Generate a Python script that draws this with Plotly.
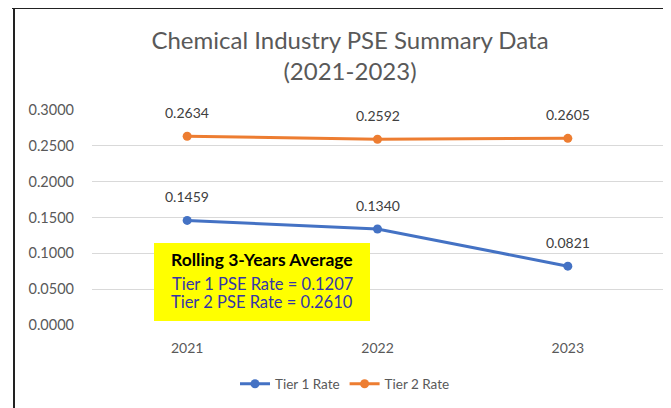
import plotly.graph_objects as go

years = ["2021", "2022", "2023"]
tier1 = [0.1459, 0.1340, 0.0821]
tier2 = [0.2634, 0.2592, 0.2605]
y_ticks = [0.0, 0.05, 0.10, 0.15, 0.20, 0.25, 0.30]
box_title = "Rolling 3-Years Average"
box_lines = ["Tier 1 PSE Rate = 0.1207", "Tier 2 PSE Rate = 0.2610"]

FONT = "Lato, Open Sans, sans-serif"
GRAY = "#595959"
xpos = list(range(len(years)))

# page body has an 8px margin; figure is sized/placed to compensate
W, H = 663, 400
OFF = 8
PL, PR, PT, PB = 92 - OFF, 663 - OFF, 110 - OFF, 325 - OFF  # plot area in figure px


def py(ref_y):
    return (325 - ref_y) / 215


fig = go.Figure()
fig.add_trace(go.Scatter(x=xpos, y=tier1, name="Tier 1 Rate", mode="lines+markers",
                         line=dict(color="#4472C4", width=3), marker=dict(size=9, color="#4472C4")))
fig.add_trace(go.Scatter(x=xpos, y=tier2, name="Tier 2 Rate", mode="lines+markers",
                         line=dict(color="#ED7D31", width=3), marker=dict(size=9, color="#ED7D31")))

anns = []
for series in (tier1, tier2):
    for x, v in zip(xpos, series):
        anns.append(dict(x=x, y=v, xref="x", yref="y", text=f"{v:.4f}", showarrow=False,
                         xanchor="center", yanchor="middle",
                         yshift=23.5, font=dict(family=FONT, size=14, color="#404040")))

# yellow info box
x0, x1 = (154 - 92) / 571, (370 - 92) / 571
y0, y1 = py(321), py(243)
shapes = [dict(type="rect", xref="paper", yref="paper", x0=x0, x1=x1, y0=y0, y1=y1,
               fillcolor="#FFFF00", line=dict(width=0), layer="above")]
xc = (x0 + x1) / 2
for txt, ypix, col, sz in [(f"<b>{box_title}</b>", 259, "black", 17.5),
                           (box_lines[0], 284, "#3535A8", 16.5),
                           (box_lines[1], 302, "#3535A8", 16.5)]:
    anns.append(dict(x=xc, y=py(ypix), xref="paper", yref="paper", text=txt,
                     xanchor="center", yanchor="middle", showarrow=False,
                     font=dict(family=FONT, size=sz, color=col)))

# border lines (top and left)
shapes.append(dict(type="line", xref="paper", yref="paper", x0=(12 - 92) / 571, x1=1.05,
                   y0=py(8), y1=py(8), line=dict(color="#222222", width=2)))
shapes.append(dict(type="line", xref="paper", yref="paper", x0=(14 - 92) / 571, x1=(14 - 92) / 571,
                   y0=py(8), y1=-0.5, line=dict(color="#222222", width=2)))

fig.update_layout(
    width=W, height=H,
    margin=dict(l=PL, r=W - PR, t=PT, b=H - PB),
    paper_bgcolor="white", plot_bgcolor="white",
    title=dict(text="Chemical Industry PSE Summary Data<br>(2021-2023)",
               x=(350 - OFF) / W, xanchor="center", xref="container",
               y=1 - 40.5 / H, yanchor="middle", yref="container",
               font=dict(family=FONT, size=24, color=GRAY)),
    showlegend=True,
    legend=dict(orientation="h", x=(345 - OFF) / W, xanchor="center", xref="container",
                y=1 - 376 / H, yanchor="middle", yref="container",
                font=dict(family=FONT, size=13.5, color=GRAY)),
    xaxis=dict(range=[-0.5, 2.5], tickvals=xpos, ticktext=years, showgrid=False,
               showline=False, ticks="", zeroline=False, ticklabelstandoff=13,
               tickfont=dict(family=FONT, size=14, color=GRAY)),
    yaxis=dict(range=[0, 0.3], tickvals=y_ticks, tickformat=".4f", showgrid=True,
               gridcolor="#D9D9D9", gridwidth=1, zeroline=False, showline=False,
               tickfont=dict(family=FONT, size=14.5, color=GRAY), ticklabelstandoff=17),
    annotations=anns, shapes=shapes,
)

fig.write_html("out.html")
